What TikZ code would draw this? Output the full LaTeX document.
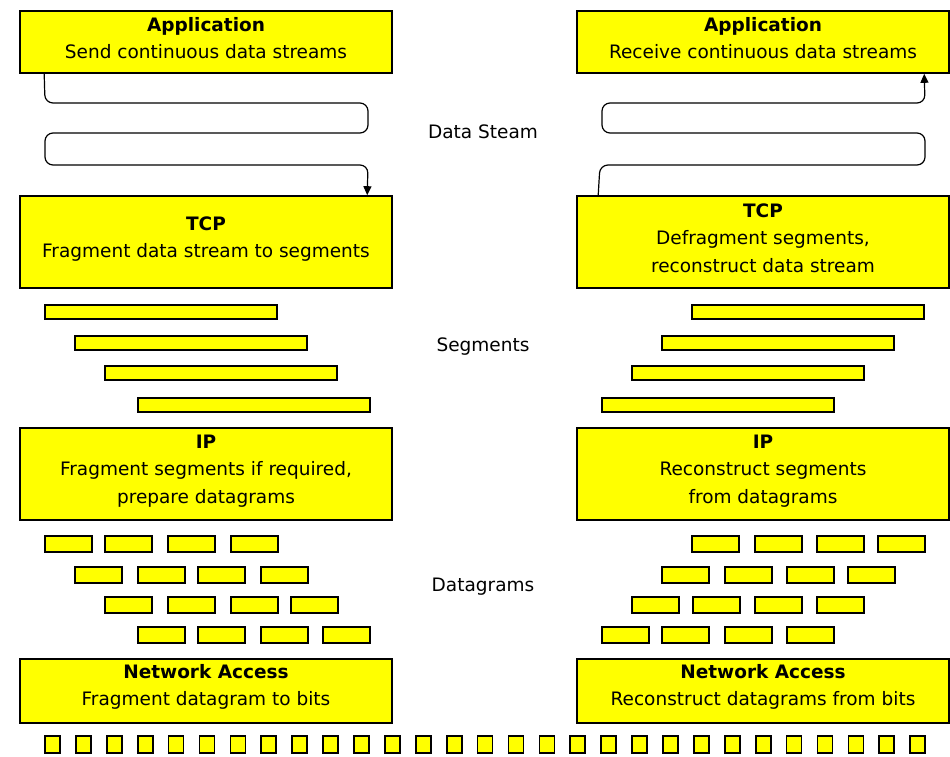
\documentclass[tikz,border=0pt]{standalone}
\usepackage{fontspec}
\setmainfont{DejaVu Sans}
\usetikzlibrary{arrows.meta}
\definecolor{boxyellow}{RGB}{255,255,0}
\begin{document}
\begin{tikzpicture}[x=1pt,y=-1pt,
  layer/.style={draw=black, line width=1.6pt, fill=boxyellow, minimum width=372pt, inner sep=0pt},
  ltext/.style={align=center, inner sep=0pt, font=\fontsize{18.5}{27.5}\selectfont},
  tag/.style={inner sep=0pt, font=\fontsize{18.5}{22}\selectfont},
  seg/.style={draw=black, line width=1.5pt, fill=boxyellow, minimum width=232pt, minimum height=14pt, inner sep=0pt},
  dgram/.style={draw=black, line width=1.5pt, fill=boxyellow, minimum width=47pt, minimum height=16pt, inner sep=0pt},
  bit/.style={draw=black, line width=1.7pt, fill=boxyellow, minimum width=15pt, minimum height=17pt, inner sep=0pt},
  flow/.style={draw=black, line width=1.2pt, rounded corners=8pt, -{Triangle[length=9pt,width=8pt]}}]
\useasboundingbox (0,0) rectangle (950,756);

% protocol layers, sender (left) and receiver (right)
\node[layer, minimum height=62pt] (appL) at (206,42) {};
\node[layer, minimum height=62pt] (appR) at (763,42) {};
\node[layer, minimum height=92pt] (tcpL) at (206,242) {};
\node[layer, minimum height=92pt] (tcpR) at (763,242) {};
\node[layer, minimum height=92pt] (ipL) at (206,474) {};
\node[layer, minimum height=92pt] (ipR) at (763,474) {};
\node[layer, minimum height=64pt] (naL) at (206,691) {};
\node[layer, minimum height=64pt] (naR) at (763,691) {};

\node[ltext] (appLt) at ([yshift=4pt]appL.center) {\textbf{Application}\\Send continuous data streams};
\node[ltext] (appRt) at ([yshift=4pt]appR.center) {\textbf{Application}\\Receive continuous data streams};
\node[ltext] (tcpLt) at ([yshift=3pt]tcpL.center) {\textbf{TCP}\\Fragment data stream to segments};
\node[ltext] (tcpRt) at ([yshift=4pt]tcpR.center) {\textbf{TCP}\\Defragment segments,\\reconstruct data stream};
\node[ltext] (ipLt) at ([yshift=3pt]ipL.center) {\textbf{IP}\\Fragment segments if required,\\prepare datagrams};
\node[ltext] (ipRt) at ([yshift=3pt]ipR.center) {\textbf{IP}\\Reconstruct segments\\from datagrams};
\node[ltext] (naLt) at ([yshift=4pt]naL.center) {\textbf{Network Access}\\Fragment datagram to bits};
\node[ltext] (naRt) at ([yshift=4pt]naR.center) {\textbf{Network Access}\\Reconstruct datagrams from bits};

% data stream between application and TCP
\draw[flow] ([xshift=25pt]appL.south west) -- (45,103) -- (368,103) -- (368,133)
  -- (45,133) -- (45,165) -- (368,165) -- ([xshift=348pt]tcpL.north west);
\draw[flow] ([xshift=22pt]tcpR.north west) -- (600,165) -- (925,165) -- (925,133)
  -- (602,133) -- (602,103) -- (925,103) -- ([xshift=348pt]appR.south west);
\node[tag] (lblStream) at (483,132) {Data Steam};

% segments
\foreach \i/\xl/\xr/\y in {1/161/808/312, 2/191/778/343, 3/221/748/373, 4/254/718/405} {
  \node[seg] (segL\i) at (\xl,\y) {};
  \node[seg] (segR\i) at (\xr,\y) {};
}
\node[tag] (lblSeg) at (483,347) {Segments};

% datagrams
\foreach \r/\y/\xs in {1/544/{45,105,168,231}, 2/575/{75,138,198,261},
                       3/605/{105,168,231,291}, 4/635/{138,198,261,323}} {
  \foreach \x [count=\k] in \xs {
    \node[dgram] (dgL\r\k) at (\x+23.5,\y) {};
  }
}
\foreach \r/\y/\xs in {1/544/{692,755,817,878}, 2/575/{662,725,787,848},
                       3/605/{632,693,755,817}, 4/635/{602,662,725,787}} {
  \foreach \x [count=\k] in \xs {
    \node[dgram] (dgR\r\k) at (\x+23.5,\y) {};
  }
}
\node[tag] (lblDg) at (483,587) {Datagrams};

% bits
\foreach \i in {0,...,28} {
  \node[bit] (bit\i) at (52.5+\i*30.9,744.5) {};
}
\end{tikzpicture}
\end{document}
